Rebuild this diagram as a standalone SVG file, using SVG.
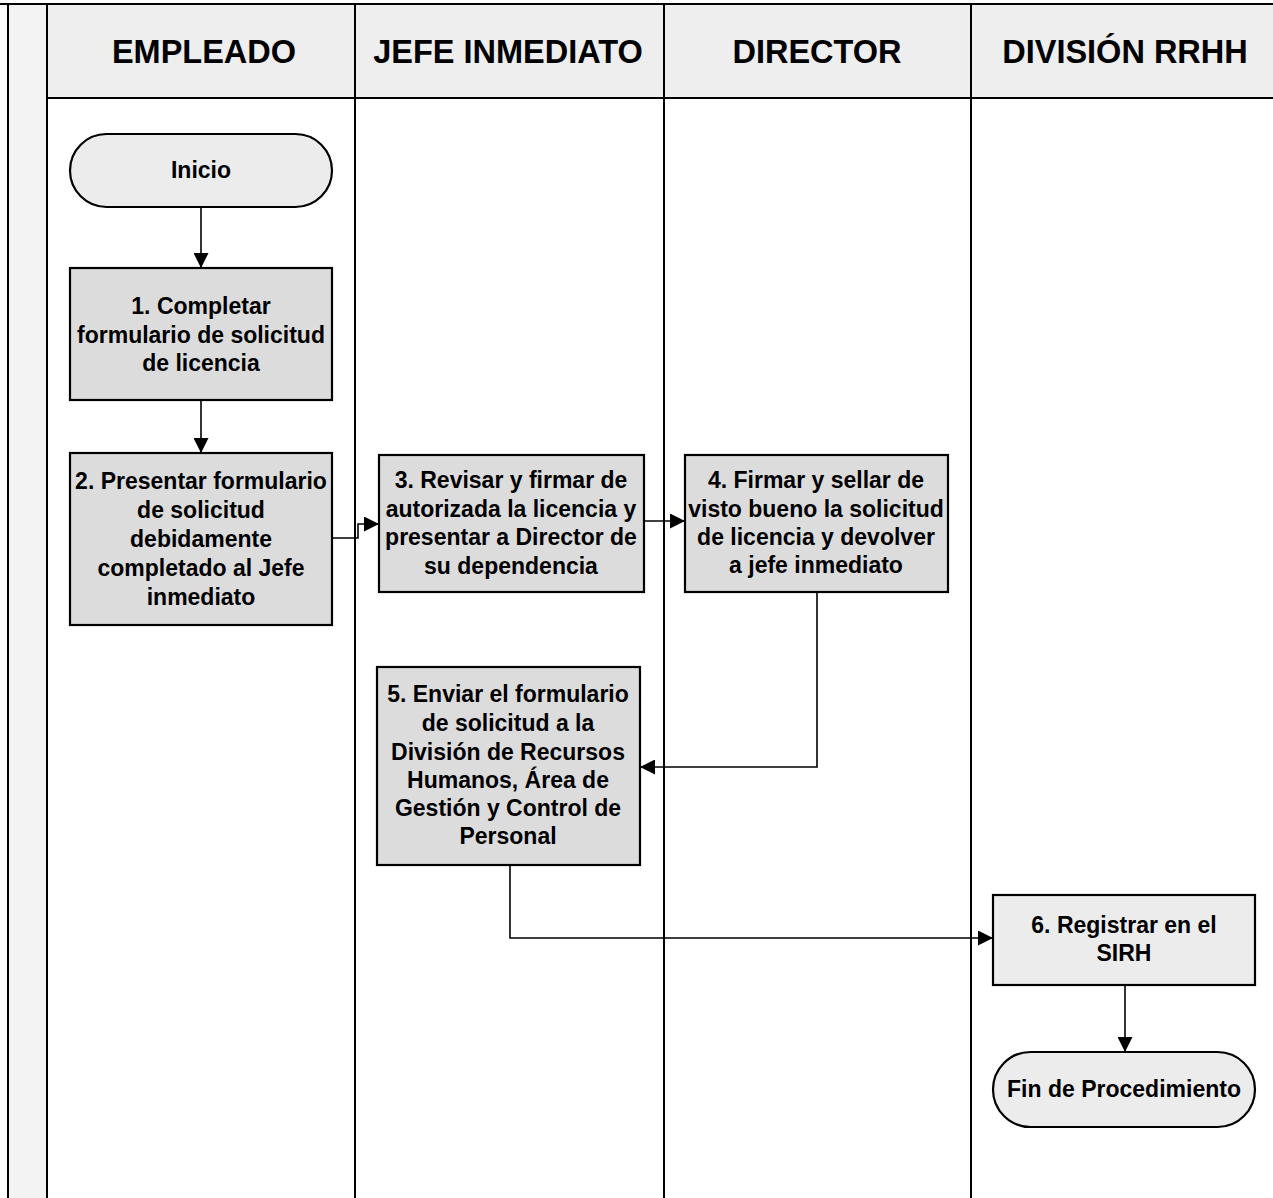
<svg xmlns="http://www.w3.org/2000/svg" width="1273" height="1198" viewBox="0 0 1273 1198">
  <style>
    .lane { stroke: #000; stroke-width: 2; fill: none; }
    .hdr { fill: #eeeeee; }
    .hdrtxt { font-family: "Liberation Sans", Arial, sans-serif; font-weight: bold; font-size: 32.5px; fill: #000; text-anchor: middle; }
    .box { fill: #dcdcdc; stroke: #000; stroke-width: 2.2; }
    .light { fill: #ececec; stroke: #000; stroke-width: 2.2; }
    .txt { font-family: "Liberation Sans", Arial, sans-serif; font-weight: bold; font-size: 23px; fill: #000; text-anchor: middle; }
    .conn { stroke: #000; stroke-width: 1.6; fill: none; marker-end: url(#arrow); }
  </style>
  <defs>
    <marker id="arrow" viewBox="0 0 12 12" refX="12" refY="6" markerWidth="15" markerHeight="15" markerUnits="userSpaceOnUse" orient="auto">
      <path d="M0,0 L12,6 L0,12 z" fill="#000"/>
    </marker>
  </defs>

  <rect x="0" y="0" width="1273" height="1198" fill="#ffffff"/>

  <!-- swimlane frame -->
  <g id="lanes">
    <rect x="8" y="5" width="39" height="1193" fill="#f3f3f3"/>
    <rect class="hdr" x="47" y="5" width="1226" height="93"/>
    <line class="lane" x1="0" y1="4" x2="1273" y2="4" stroke-width="3"/>
    <line class="lane" x1="8" y1="4" x2="8" y2="1198"/>
    <line class="lane" x1="47" y1="4" x2="47" y2="1198"/>
    <line class="lane" x1="355" y1="4" x2="355" y2="1198"/>
    <line class="lane" x1="664" y1="4" x2="664" y2="1198"/>
    <line class="lane" x1="971" y1="4" x2="971" y2="1198"/>
    <line class="lane" x1="47" y1="98" x2="1273" y2="98"/>
    <text class="hdrtxt" x="204" y="63">EMPLEADO</text>
    <text class="hdrtxt" x="508" y="63">JEFE INMEDIATO</text>
    <text class="hdrtxt" x="817" y="63">DIRECTOR</text>
    <text class="hdrtxt" x="1125" y="63">DIVISIÓN RRHH</text>
  </g>

  <!-- connectors -->
  <g id="connectors">
    <path class="conn" d="M201,207 V268"/>
    <path class="conn" d="M201,400 V453"/>
    <path class="conn" d="M332,538 H358 V524 H379"/>
    <path class="conn" d="M644,521 H685"/>
    <path class="conn" d="M817,592 V767 H640"/>
    <path class="conn" d="M510,865 V938 H993"/>
    <path class="conn" d="M1125,985 V1052"/>
  </g>

  <g id="inicio">
    <rect class="light" x="70" y="134" width="262" height="73" rx="36.5"/>
    <text class="txt" x="201" y="178">Inicio</text>
  </g>

  <g id="paso1">
    <rect class="box" x="70" y="268" width="262" height="132"/>
    <text class="txt" x="201" y="314">1. Completar</text>
    <text class="txt" x="201" y="343">formulario de solicitud</text>
    <text class="txt" x="201" y="371">de licencia</text>
  </g>

  <g id="paso2">
    <rect class="box" x="70" y="453" width="262" height="172"/>
    <text class="txt" x="201" y="489">2. Presentar formulario</text>
    <text class="txt" x="201" y="518">de solicitud</text>
    <text class="txt" x="201" y="547">debidamente</text>
    <text class="txt" x="201" y="576">completado al Jefe</text>
    <text class="txt" x="201" y="605">inmediato</text>
  </g>

  <g id="paso3">
    <rect class="box" x="379" y="455" width="265" height="137"/>
    <text class="txt" x="511" y="488">3. Revisar y firmar de</text>
    <text class="txt" x="511" y="517">autorizada la licencia y</text>
    <text class="txt" x="511" y="545">presentar a Director de</text>
    <text class="txt" x="511" y="574">su dependencia</text>
  </g>

  <g id="paso4">
    <rect class="box" x="685" y="455" width="263" height="137"/>
    <text class="txt" x="816" y="488">4. Firmar y sellar de</text>
    <text class="txt" x="816" y="517">visto bueno la solicitud</text>
    <text class="txt" x="816" y="545">de licencia y devolver</text>
    <text class="txt" x="816" y="573">a jefe inmediato</text>
  </g>

  <g id="paso5">
    <rect class="box" x="377" y="667" width="263" height="198"/>
    <text class="txt" x="508" y="702">5. Enviar el formulario</text>
    <text class="txt" x="508" y="731">de solicitud a la</text>
    <text class="txt" x="508" y="760">División de Recursos</text>
    <text class="txt" x="508" y="788">Humanos, Área de</text>
    <text class="txt" x="508" y="816">Gestión y Control de</text>
    <text class="txt" x="508" y="844">Personal</text>
  </g>

  <g id="paso6">
    <rect class="light" x="993" y="895" width="262" height="90"/>
    <text class="txt" x="1124" y="933">6. Registrar en el</text>
    <text class="txt" x="1124" y="961">SIRH</text>
  </g>

  <g id="fin">
    <rect class="light" x="993" y="1052" width="262" height="75" rx="37.5"/>
    <text class="txt" x="1124" y="1097">Fin de Procedimiento</text>
  </g>
</svg>
